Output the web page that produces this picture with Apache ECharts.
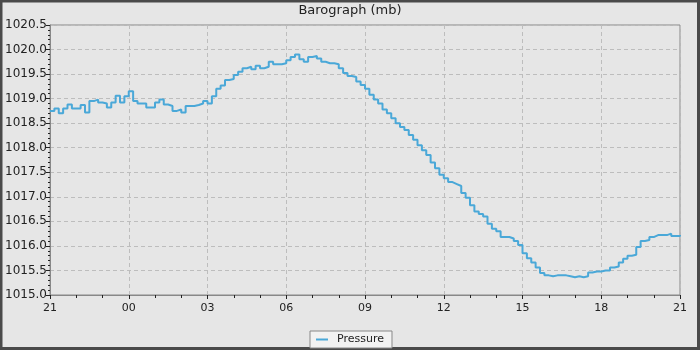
<!DOCTYPE html>
<html>
<head>
<meta charset="utf-8">
<title>Barograph</title>
<script src="https://cdn.jsdelivr.net/npm/echarts@6/dist/echarts.min.js"></script>
<style>
  html, body { margin: 0; padding: 0; background: #e6e6e6; }
  #chart { width: 700px; height: 350px; }
</style>
</head>
<body>
<div id="chart"></div>
<script>
// readings every 10 minutes, starting 21:00
var startHour = 21;
var stepMinutes = 10;
var pressure = [
  1018.75, 1018.80, 1018.70, 1018.80, 1018.88, 1018.80, 1018.80, 1018.87, 1018.72, 1018.95,
  1018.98, 1018.92, 1018.90, 1018.82, 1018.92, 1019.06, 1018.92, 1019.05, 1019.15, 1018.95,
  1018.90, 1018.90, 1018.82, 1018.82, 1018.92, 1018.98, 1018.88, 1018.85, 1018.75, 1018.78,
  1018.72, 1018.85, 1018.85, 1018.87, 1018.90, 1018.95, 1018.90, 1019.05, 1019.20, 1019.27,
  1019.38, 1019.40, 1019.48, 1019.55, 1019.62, 1019.65, 1019.60, 1019.67, 1019.62, 1019.65,
  1019.75, 1019.70, 1019.70, 1019.72, 1019.78, 1019.85, 1019.90, 1019.80, 1019.75, 1019.85,
  1019.87, 1019.82, 1019.75, 1019.72, 1019.72, 1019.70, 1019.62, 1019.52, 1019.46, 1019.44,
  1019.35, 1019.28, 1019.20, 1019.08, 1018.98, 1018.90, 1018.78, 1018.70, 1018.60, 1018.50,
  1018.42, 1018.36, 1018.26, 1018.16, 1018.05, 1017.95, 1017.85, 1017.70, 1017.58, 1017.45,
  1017.38, 1017.30, 1017.26, 1017.22, 1017.08, 1016.98, 1016.83, 1016.70, 1016.65, 1016.60,
  1016.45, 1016.35, 1016.30, 1016.18, 1016.18, 1016.15, 1016.10, 1016.02, 1015.85, 1015.75,
  1015.66, 1015.56, 1015.45, 1015.40, 1015.38, 1015.40, 1015.40, 1015.40, 1015.38, 1015.36,
  1015.38, 1015.36, 1015.38, 1015.46, 1015.48, 1015.48, 1015.50, 1015.50, 1015.56, 1015.58,
  1015.66, 1015.74, 1015.80, 1015.82, 1015.98, 1016.10, 1016.12, 1016.18, 1016.22, 1016.22,
  1016.22, 1016.25, 1016.20, 1016.20, 1016.22
];
var hourLabels = ['21', '00', '03', '06', '09', '12', '15', '18', '21'];

var seriesData = pressure.map(function (v, i) {
  return [i * stepMinutes / 60, v];
});

var chart = echarts.init(document.getElementById('chart'));
var font = 'DejaVu Sans';

chart.setOption({
  backgroundColor: '#e6e6e6',
  animation: false,
  textStyle: { fontFamily: font },
  title: {
    text: 'Barograph (mb)',
    left: 'center',
    top: 4,
    padding: 0,
    textStyle: { fontSize: 13, fontWeight: 'normal', color: '#222', fontFamily: font }
  },
  legend: {
    bottom: 2,
    left: 'center',
    data: ['Pressure'],
    icon: 'rect',
    itemWidth: 12,
    itemHeight: 2,
    itemGap: 0,
    padding: [3, 8, 3, 6],
    borderColor: '#888',
    borderWidth: 1,
    borderRadius: 0,
    backgroundColor: '#f2f2f2',
    textStyle: { fontSize: 11, color: '#222', fontFamily: font, padding: [0, 0, 0, 4] }
  },
  grid: {
    left: 50, right: 20, top: 25, bottom: 55,
    show: true,
    borderColor: '#888',
    borderWidth: 1,
    backgroundColor: 'transparent',
    outerBoundsMode: 'none'
  },
  xAxis: {
    type: 'value',
    min: 0, max: 24, interval: 3,
    axisLine: { lineStyle: { color: '#888' } },
    axisTick: { length: 4, lineStyle: { color: '#222' } },
    minorTick: { show: true, splitNumber: 3, length: 3, lineStyle: { color: '#222' } },
    splitLine: { show: true, lineStyle: { color: '#bdbdbd', type: [4, 3] } },
    axisLabel: {
      margin: 8,
      fontSize: 11,
      color: '#222',
      fontFamily: font,
      formatter: function (v) { return hourLabels[Math.round(v / 3)]; }
    }
  },
  yAxis: {
    type: 'value',
    min: 1015, max: 1020.5, interval: 0.5,
    axisLine: { show: true, lineStyle: { color: '#888' } },
    axisTick: { show: true, length: 4, lineStyle: { color: '#222' } },
    minorTick: { show: true, splitNumber: 5, length: 2, lineStyle: { color: '#222' } },
    splitLine: { show: true, lineStyle: { color: '#bdbdbd', type: [4, 3] } },
    axisLabel: {
      margin: 3,
      fontSize: 12,
      color: '#222',
      fontFamily: font,
      formatter: function (v) { return v.toFixed(1); }
    }
  },
  series: [{
    name: 'Pressure',
    type: 'line',
    step: 'end',
    showSymbol: false,
    data: seriesData,
    itemStyle: { color: '#4aa8d8' },
    lineStyle: { color: '#4aa8d8', width: 2 }
  }],
  graphic: [{
    type: 'rect',
    silent: true,
    shape: { x: 1, y: 1, width: 697.5, height: 347.5 },
    style: { fill: null, stroke: '#4a4a4a', lineWidth: 3 }
  }]
});
</script>
</body>
</html>
